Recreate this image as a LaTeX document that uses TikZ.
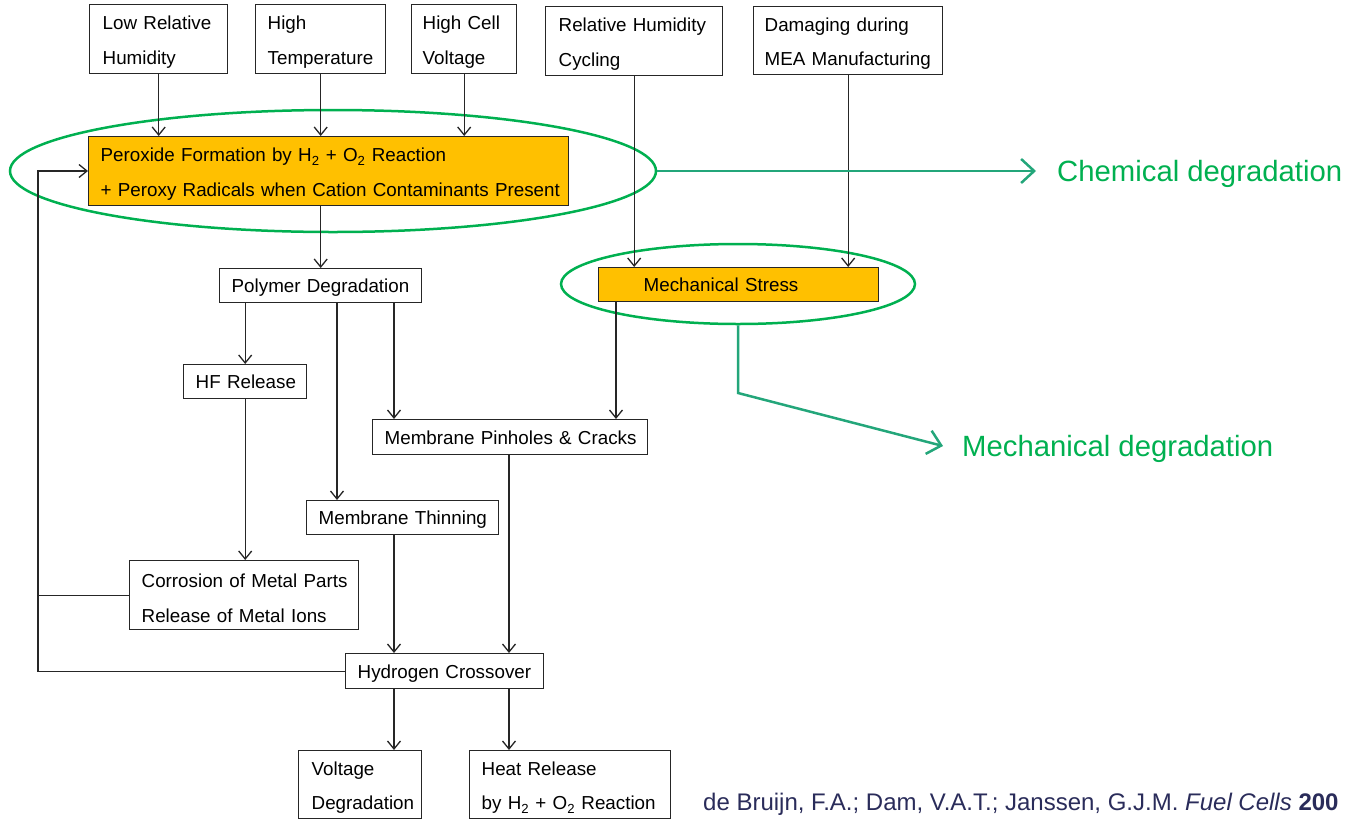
\documentclass[tikz,border=0pt]{standalone}
\usepackage{fontspec}
\setmainfont{Liberation Sans}
\usetikzlibrary{arrows.meta,shapes.geometric,calc}
\definecolor{orng}{HTML}{FFC000}
\definecolor{grn}{HTML}{00B050}
\definecolor{tealg}{HTML}{23A67A}
\definecolor{citec}{HTML}{2A2C5A}
\begin{document}
\begin{tikzpicture}[x=1pt,y=-1pt,
  box/.style={draw=black!85, line width=1.4pt, anchor=north west, inner ysep=0pt, align=left, font=\fontsize{18.8}{34.5}\selectfont},
  one/.style={box, text depth=0pt},
  two/.style={box, text height=19.7pt},
  arr/.style={draw=black!85, line width=1.3pt, -{Straight Barb[length=8pt,width=13pt,line width=1.3pt]}},
  plain/.style={draw=black!85, line width=1.3pt},
  gline/.style={draw=tealg, line width=2.5pt, -{Straight Barb[length=13pt,width=24pt,line width=2.5pt]}},
  gell/.style={draw=grn, line width=2.5pt, ellipse, inner sep=0pt},
  glab/.style={text=grn, anchor=west, text depth=0pt, font=\fontsize{29.3}{34}\selectfont}
]
\useasboundingbox (0,0) rectangle (1345,820);

% ellipses
\node[gell, minimum width=646, minimum height=122] (chemell) at (333,171) {};
\node[gell, minimum width=354, minimum height=80] (mechell) at (738,284) {};

% boxes
\node[two, inner xsep=13pt, text width=112pt, minimum height=69pt] (low) at (89,4) {\mbox{Low Relative}\\\mbox{Humidity}};
\node[two, inner xsep=12pt, text width=106pt, minimum height=69pt] (temp) at (255,4) {\mbox{High}\\\mbox{Temperature}};
\node[two, inner xsep=11pt, text width=83pt, minimum height=69pt] (volt) at (411,4) {\mbox{High Cell}\\\mbox{Voltage}};
\node[two, inner xsep=13pt, text width=151pt, minimum height=69pt] (rhc) at (545,6) {\mbox{Relative Humidity}\\\mbox{Cycling}};
\node[two, inner xsep=11pt, text width=167pt, minimum height=68pt] (mea) at (753,6) {\mbox{Damaging during}\\\mbox{MEA Manufacturing}};
\node[two, fill=orng, inner xsep=12pt, text width=456pt, minimum height=69pt] (perox) at (88,136) {\mbox{Peroxide Formation by H\textsubscript{2} + O\textsubscript{2} Reaction}\\\mbox{+ Peroxy Radicals when Cation Contaminants Present}};
\node[one, inner xsep=12pt, text width=178pt, minimum height=34pt] (poly) at (219,268) {\mbox{Polymer Degradation}};
\node[one, fill=orng, inner xsep=45pt, text width=190pt, minimum height=34pt] (mech) at (598,267) {\mbox{Mechanical Stress}};
\node[one, inner xsep=12pt, text width=99pt, minimum height=34pt] (hf) at (183,364) {\mbox{HF Release}};
\node[one, inner xsep=12pt, text width=251pt, minimum height=35pt] (pin) at (372,419) {\mbox{Membrane Pinholes \& Cracks}};
\node[one, inner xsep=12pt, text width=168pt, minimum height=34pt] (thin) at (306,500) {\mbox{Membrane Thinning}};
\node[two, inner xsep=12pt, text width=205pt, minimum height=69pt] (corr) at (129,560) {\mbox{Corrosion of Metal Parts}\\\mbox{Release of Metal Ions}};
\node[one, inner xsep=12pt, text width=174pt, minimum height=35pt] (hyd) at (345,653) {\mbox{Hydrogen Crossover}};
\node[two, inner xsep=13pt, text width=97pt, minimum height=68pt] (vdeg) at (298,750) {\mbox{Voltage}\\\mbox{Degradation}};
\node[two, inner xsep=12pt, text width=177pt, minimum height=68pt] (heat) at (469,750) {\mbox{Heat Release}\\\mbox{by H\textsubscript{2} + O\textsubscript{2} Reaction}};

% labels
\node[glab, inner xsep=21pt] (chemlab) at (1036,171) {Chemical degradation};
\node[glab, inner xsep=19pt] (mechlab) at (943,446) {Mechanical degradation};
\node[anchor=base west, text=citec, inner sep=0pt, font=\fontsize{24}{28}\selectfont] (cite) at (703,810) {de Bruijn, F.A.; Dam, V.A.T.; Janssen, G.J.M. \textit{Fuel Cells} \textbf{200}};

% helper coordinates
\coordinate (p2) at ($(poly.south west)+(118,0)$);
\coordinate (p3) at ($(poly.south west)+(175,0)$);
\coordinate (m1) at ($(mech.south west)+(18,0)$);
\coordinate (t1) at ($(thin.south west)+(88,0)$);
\coordinate (q1) at ($(pin.south west)+(137,0)$);
\coordinate (fb) at (38,171);
\coordinate (mbend) at (738,393);

% black connectors
\draw[arr] (low.south) -- (low.south |- perox.north);
\draw[arr] (temp.south) -- (temp.south |- perox.north);
\draw[arr] (volt.south) -- (volt.south |- perox.north);
\draw[arr] (rhc.south) -- (rhc.south |- mech.north);
\draw[arr] (mea.south) -- (mea.south |- mech.north);
\draw[arr] (poly.north |- perox.south) -- (poly.north);
\draw[arr] (hf.north |- poly.south) -- (hf.north);
\draw[arr] (p2) -- (p2 |- thin.north);
\draw[arr] (p3) -- (p3 |- pin.north);
\draw[arr] (m1) -- (m1 |- pin.north);
\draw[arr] (hf.south) -- (hf.south |- corr.north);
\draw[arr] (t1) -- (t1 |- hyd.north);
\draw[arr] (q1) -- (q1 |- hyd.north);
\draw[arr] (t1 |- hyd.south) -- (t1 |- vdeg.north);
\draw[arr] (q1 |- hyd.south) -- (q1 |- heat.north);
\draw[arr] (hyd.west) -| (fb) -- (fb -| perox.west);
\draw[plain] (corr.west) -- (corr.west -| fb);

% green connectors
\draw[gline] (chemell.east) -- (chemlab.west);
\draw[gline] (mechell.south) -- (mbend) -- (mechlab.west);
\end{tikzpicture}
\end{document}
